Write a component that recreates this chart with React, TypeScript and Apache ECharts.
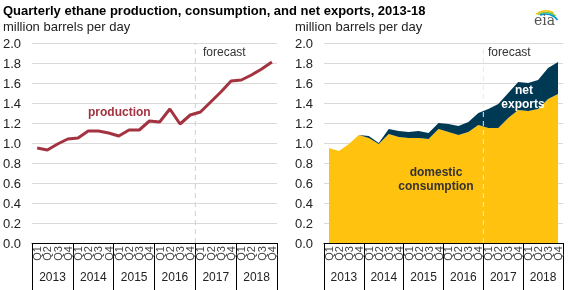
import React, { useEffect, useRef } from "react";
import * as echarts from "echarts";

const quarters = [
  "Q1", "Q2", "Q3", "Q4", "Q1", "Q2", "Q3", "Q4", "Q1", "Q2", "Q3", "Q4",
  "Q1", "Q2", "Q3", "Q4", "Q1", "Q2", "Q3", "Q4", "Q1", "Q2", "Q3", "Q4",
];
const years = ["2013", "2014", "2015", "2016", "2017", "2018"];
const production = [
  0.95, 0.93, 0.99, 1.04, 1.05, 1.12, 1.12, 1.1, 1.07, 1.13, 1.13, 1.22,
  1.21, 1.34, 1.19, 1.28, 1.31, 1.41, 1.51, 1.62, 1.63, 1.68, 1.74, 1.81,
];
const domesticConsumption = [
  0.95, 0.92, 0.99, 1.08, 1.05, 0.99, 1.09, 1.06, 1.05, 1.05, 1.04, 1.14,
  1.11, 1.08, 1.11, 1.18, 1.15, 1.15, 1.25, 1.33, 1.32, 1.34, 1.44, 1.49,
];
const netExports = [
  0.0, 0.0, 0.0, 0.0, 0.02, 0.01, 0.05, 0.06, 0.06, 0.07, 0.06, 0.06,
  0.08, 0.09, 0.1, 0.12, 0.19, 0.24, 0.25, 0.28, 0.28, 0.29, 0.31, 0.32,
];
const forecastStart = 16; // boundary index where 2017 Q1 forecast starts
const yMin = 0;
const yMax = 2;
const yInterval = 0.2;

const FONT = "Liberation Sans, Arial, sans-serif";
const RED = "#a33340";
const YELLOW = "#ffc20e";
const NAVY = "#003953";
const GRID = "#d9d9d9";

export default function App() {
  const ref = useRef<HTMLDivElement>(null);
  useEffect(() => {
    const chart = echarts.init(ref.current!, null, { renderer: "svg" });

    const quarterAxis = (gridIndex: number) => ({
      type: "category",
      gridIndex,
      data: quarters,
      boundaryGap: true,
      axisLine: { show: true, lineStyle: { color: "#000", width: 1 } },
      axisTick: { show: false },
      axisLabel: {
        rotate: 90,
        fontSize: 11,
        fontFamily: FONT,
        color: "#444",
        margin: 3,
        interval: 0,
      },
      splitLine: { show: false },
    });
    const yearAxis = (gridIndex: number) => ({
      type: "category",
      gridIndex,
      data: years,
      position: "bottom",
      boundaryGap: true,
      axisLine: { show: false },
      axisTick: { show: true, length: 48, lineStyle: { color: "#000", width: 1 } },
      axisLabel: {
        fontSize: 12,
        fontFamily: FONT,
        color: "#222",
        margin: 28,
        interval: 0,
      },
      splitLine: { show: false },
    });
    const helperAxis = (gridIndex: number) => ({
      type: "value",
      gridIndex,
      min: 0,
      max: quarters.length,
      show: false,
    });
    const valueAxis = (gridIndex: number) => ({
      type: "value",
      gridIndex,
      min: yMin,
      max: yMax,
      interval: yInterval,
      axisLine: { show: false },
      axisTick: { show: false },
      axisLabel: {
        fontSize: 13,
        fontFamily: FONT,
        color: "#222",
        margin: 11,
        formatter: (v: number) => v.toFixed(1),
      },
      splitLine: { show: true, lineStyle: { color: GRID, width: 1 } },
    });

    const forecastLine = (xAxisIndex: number, yAxisIndex: number, color: string) => ({
      type: "line",
      xAxisIndex,
      yAxisIndex,
      data: [
        [forecastStart, yMin],
        [forecastStart, yMax],
      ],
      symbol: "none",
      silent: true,
      lineStyle: { color, width: 1, type: [5, 4] },
      z: 5,
    });

    const text = (
      x: number,
      y: number,
      t: string,
      opts: Record<string, unknown> = {}
    ) => ({
      type: "text",
      x,
      y,
      z: 100,
      style: {
        text: t,
        fontFamily: FONT,
        fontSize: 12,
        fill: "#222",
        verticalAlign: "middle",
        align: "left",
        ...opts,
      },
    });

    chart.setOption({
      animation: false,
      grid: [
        { left: 32, top: 43, width: 245, height: 200 },
        { left: 324, top: 43, width: 239, height: 200 },
      ],
      xAxis: [
        quarterAxis(0),
        yearAxis(0),
        quarterAxis(1),
        yearAxis(1),
        helperAxis(0),
        helperAxis(1),
      ],
      yAxis: [valueAxis(0), valueAxis(1)],
      series: [
        {
          name: "production",
          type: "line",
          xAxisIndex: 0,
          yAxisIndex: 0,
          data: production,
          symbol: "none",
          lineStyle: { color: RED, width: 3 },
          z: 6,
        },
        forecastLine(4, 0, "#d0d0d0"),
        {
          name: "domestic consumption",
          type: "line",
          xAxisIndex: 2,
          yAxisIndex: 1,
          stack: "total",
          data: domesticConsumption,
          symbol: "none",
          lineStyle: { width: 0 },
          areaStyle: { color: YELLOW, opacity: 1 },
        },
        {
          name: "net exports",
          type: "line",
          xAxisIndex: 2,
          yAxisIndex: 1,
          stack: "total",
          data: netExports,
          symbol: "none",
          lineStyle: { width: 0 },
          areaStyle: { color: NAVY, opacity: 1 },
        },
        forecastLine(5, 1, "#e8e8e8"),
      ],
      graphic: [
        text(3, 10, "Quarterly ethane production, consumption, and net exports, 2013-18", {
          fontSize: 13,
          fontWeight: "bold",
          fill: "#000",
        }),
        text(3, 26, "million barrels per day", { fontSize: 13 }),
        text(295, 26, "million barrels per day", { fontSize: 13 }),
        text(203, 52, "forecast", { fill: "#333" }),
        text(488, 52, "forecast", { fill: "#333" }),
        text(88, 112, "production", { fontWeight: "bold", fill: RED }),
        text(524, 90, "net", { fontWeight: "bold", fill: "#fff", align: "center" }),
        text(523, 104, "exports", { fontWeight: "bold", fill: "#fff", align: "center" }),
        text(436, 172, "domestic", { fontWeight: "bold", fill: "#333", align: "center" }),
        text(436, 186, "consumption", { fontWeight: "bold", fill: "#333", align: "center" }),
        {
          type: "arc",
          z: 100,
          shape: { cx: 546, cy: 28, r: 17, startAngle: -2.2, endAngle: -1.1 },
          style: { stroke: "#f2c500", lineWidth: 1.5, fill: "none" },
        },
        {
          type: "arc",
          z: 100,
          shape: { cx: 546, cy: 28, r: 15.5, startAngle: -2.1, endAngle: -0.9 },
          style: { stroke: "#7ac143", lineWidth: 1.5, fill: "none" },
        },
        {
          type: "arc",
          z: 100,
          shape: { cx: 546, cy: 28, r: 14, startAngle: -2.0, endAngle: -0.6 },
          style: { stroke: "#0096d6", lineWidth: 1.5, fill: "none" },
        },
        text(534, 20, "eia", {
          fontFamily: "DejaVu Serif, Liberation Serif, serif",
          fontSize: 14,
          fill: "#555",
        }),
      ],
    });
    return () => chart.dispose();
  }, []);
  return (
    <div
      ref={ref}
      style={{ position: "fixed", left: 0, top: 0, width: 568, height: 290 }}
    />
  );
}
